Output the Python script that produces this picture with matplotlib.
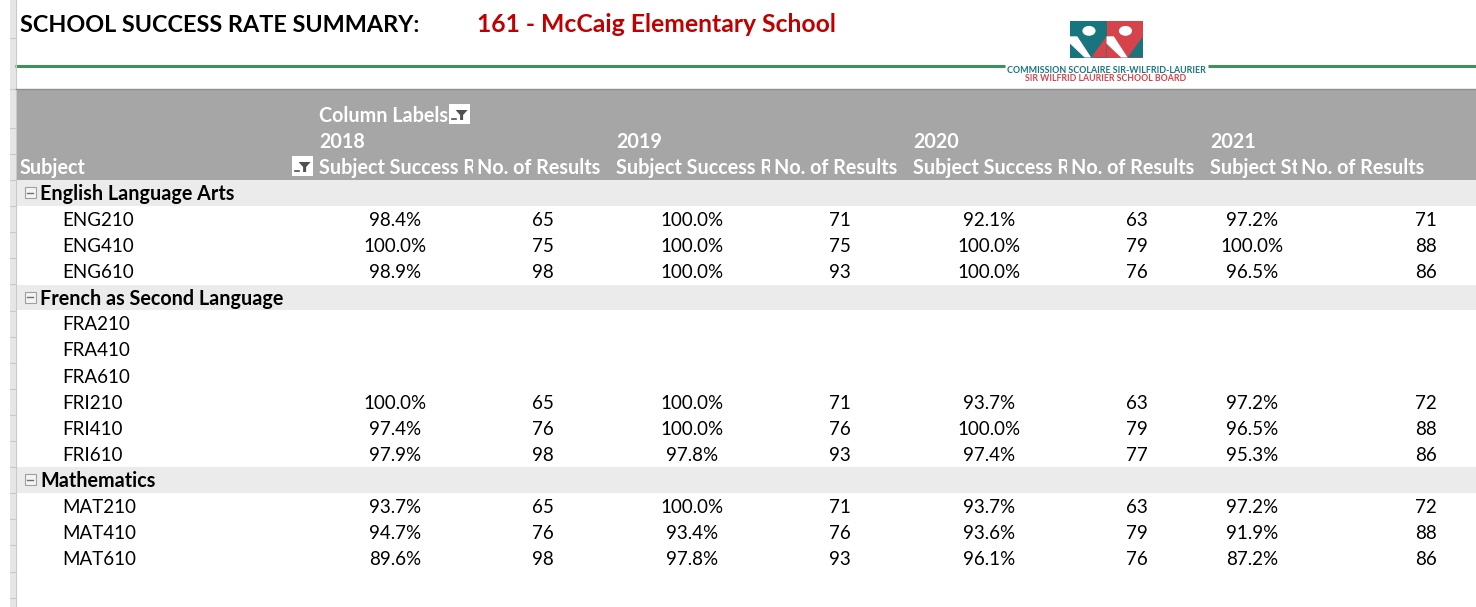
import matplotlib
matplotlib.use("Agg")
import matplotlib.pyplot as plt
from matplotlib.patches import Rectangle, Polygon, Ellipse

plt.rcParams['font.family'] = ['Lato', 'DejaVu Sans']

years = [2018, 2019, 2020, 2021]
school = "161 - McCaig Elementary School"
# the rate header is cut by the column width in the sheet
rate_headers = ["Subject Success R", "Subject Success R", "Subject Success R", "Subject St"]

eng_courses = ["ENG210", "ENG410", "ENG610"]
eng_rates = [[98.4, 100.0, 92.1, 97.2],
             [100.0, 100.0, 100.0, 100.0],
             [98.9, 100.0, 100.0, 96.5]]
eng_counts = [[65, 71, 63, 71],
              [75, 75, 79, 88],
              [98, 93, 76, 86]]

fr_courses = ["FRA210", "FRA410", "FRA610", "FRI210", "FRI410", "FRI610"]
fr_rates = [None, None, None,
            [100.0, 100.0, 93.7, 97.2],
            [97.4, 100.0, 100.0, 96.5],
            [97.9, 97.8, 97.4, 95.3]]
fr_counts = [None, None, None,
             [65, 71, 63, 72],
             [76, 76, 79, 88],
             [98, 93, 77, 86]]

mat_courses = ["MAT210", "MAT410", "MAT610"]
mat_rates = [[93.7, 100.0, 93.7, 97.2],
             [94.7, 93.4, 93.6, 91.9],
             [89.6, 97.8, 96.1, 87.2]]
mat_counts = [[65, 71, 63, 72],
              [76, 76, 79, 88],
              [98, 93, 76, 86]]

groups = [("English Language Arts", eng_courses, eng_rates, eng_counts),
          ("French as Second Language", fr_courses, fr_rates, fr_counts),
          ("Mathematics", mat_courses, mat_rates, mat_counts)]

# ---- layout (pixels) ----
W, H = 1476, 607
TEAL = "#16757d"
RED = "#d6434b"
HDR = "#a6a6a6"
BAND = "#ebebeb"
row0, pitch = 114.8, 26.1
year_x = [319, 616, 913, 1210]          # left edge of each year block
rate_end = [474, 771, 1068, 1298]       # right edge of the rate column
rate_cx = [395, 692, 989, 1252]
count_cx = [543, 840, 1137, 1426]
fs = 13.5     # body text
fsb = 14.2    # bold header / group text


def row_y(i):
    return row0 + pitch * i


def put(ax, x, y, s, size, **kw):
    # y is the middle of the capitals, like the reference rows
    return ax.text(x, y + 0.5 * 0.717 * size * 100 / 72, s, fontsize=size,
                   va="baseline", **kw)


def filter_icon(ax, x, y, w=21, h=20):
    ax.add_patch(Rectangle((x, y), w, h, facecolor="white", edgecolor="none"))
    cx = x + w * 0.6
    top = y + h * 0.3
    ax.add_patch(Polygon([(cx - 6, top), (cx + 6, top), (cx + 1.5, top + 5),
                          (cx + 1.5, top + 10), (cx - 1.5, top + 10), (cx - 1.5, top + 5)],
                         closed=True, facecolor="#505050", edgecolor="none"))
    ax.plot([x + 3, x + 7], [top + 9, top + 9], color="#505050", lw=1.2)


def logo_square(ax, x0, y0, s, bg, fg):
    ax.add_patch(Rectangle((x0, y0), s, s, facecolor=bg, edgecolor="none"))
    pts = lambda p: [(x0 + u * s, y0 + v * s) for u, v in p]
    ax.add_patch(Polygon(pts([(0.58, 1.0), (1.0, 0.42), (1.0, 1.0)]), facecolor=fg, edgecolor="none"))
    ax.add_patch(Polygon(pts([(0.0, 0.42), (0.2, 0.42), (0.58, 1.0), (0.4, 1.0), (0.0, 0.62)]),
                         facecolor="white", edgecolor="none"))
    ax.add_patch(Ellipse((x0 + 0.52 * s, y0 + 0.27 * s), 0.36 * s, 0.27 * s,
                         facecolor="white", edgecolor="none"))


fig = plt.figure(figsize=(W / 100, H / 100), dpi=100)
ax = fig.add_axes([0, 0, 1, 1])
ax.set_xlim(0, W)
ax.set_ylim(H, 0)
ax.axis("off")

# title line
put(ax, 20, 23.5, "SCHOOL SUCCESS RATE SUMMARY:", 16.8, fontweight="bold",
    color="black", ha="left")
put(ax, 477, 23.5, school, 17.8, fontweight="bold", color="#c00000", ha="left")

# green rule with the board logo
ax.plot([15, 1005], [66, 66], color="#3f8f5f", lw=2.2, solid_capstyle="butt")
ax.plot([1208, W], [66, 66], color="#3f8f5f", lw=2.2, solid_capstyle="butt")
logo_square(ax, 1070, 21, 36.5, TEAL, RED)
logo_square(ax, 1106.5, 21, 36.5, RED, TEAL)
put(ax, 1106, 69.5, "COMMISSION SCOLAIRE SIR-WILFRID-LAURIER", 6.4, fontweight="bold",
    color=TEAL, ha="center")
put(ax, 1106, 78, "SIR WILFRID LAURIER SCHOOL BOARD", 6.3, fontweight="bold",
    color=RED, ha="center")

# left sheet strip
ax.add_patch(Rectangle((9.5, 0), 6, H, facecolor="#e6e6e6", edgecolor="none"))
ax.plot([15.5, 15.5], [0, H], color="#c9c9c9", lw=0.8)
for yb in [38, 89] + [row_y(i) + 13 for i in range(0, 19)]:
    ax.plot([9.5, 15.5], [yb, yb], color="#c9c9c9", lw=0.8)

# header band
ax.add_patch(Rectangle((15.5, 89), W - 15.5, 90.5, facecolor=HDR, edgecolor="none"))
ax.plot([15.5, W], [89, 89], color="#8f8f8f", lw=1)

hkw = dict(fontweight="bold", color="white", ha="left")
put(ax, 319, row_y(0), "Column Labels", fsb, **hkw)
filter_icon(ax, 449, 104)
put(ax, 20, row_y(2), "Subject", fsb, **hkw)
filter_icon(ax, 292, 156)
for k, yr in enumerate(years):
    put(ax, year_x[k], row_y(1), str(yr), fsb, **hkw)
    t = put(ax, year_x[k], row_y(2), rate_headers[k], fsb, clip_on=True, **hkw)
    t.set_clip_path(Rectangle((year_x[k] - 3, 150), rate_end[k] - year_x[k] + 2, 30,
                              transform=ax.transData))
    put(ax, rate_end[k] + 3, row_y(2), "No. of Results", fsb, **hkw)

# body rows
i = 3
for name, courses, rates, counts in groups:
    yc = row_y(i)
    ax.add_patch(Rectangle((15.5, yc - 13), W - 15.5, 25.5, facecolor=BAND, edgecolor="none"))
    ax.add_patch(Rectangle((24.5, yc - 6), 11, 11, facecolor="#f4f4f4", edgecolor="#a0a0a0", lw=0.8))
    ax.plot([27, 33], [yc - 0.5, yc - 0.5], color="#707070", lw=1)
    put(ax, 40, yc, name, fsb, fontweight="bold", color="black", ha="left")
    i += 1
    for c, course in enumerate(courses):
        yc = row_y(i)
        put(ax, 62, yc, course, fs, color="black", ha="left")
        if rates[c] is not None:
            for k in range(len(years)):
                put(ax, rate_cx[k], yc, f"{rates[c][k]:.1f}%", fs, color="black", ha="center")
                put(ax, count_cx[k], yc, str(counts[c][k]), fs, color="black", ha="center")
        i += 1

fig.savefig("out.png", dpi=100)
